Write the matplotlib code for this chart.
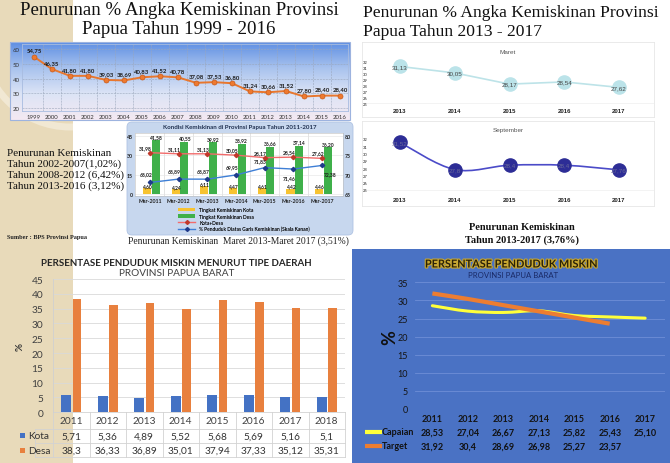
import numpy as np
import matplotlib
matplotlib.use("Agg")
import matplotlib.pyplot as plt
from matplotlib.patches import Rectangle, FancyBboxPatch, PathPatch, Circle, Patch
from matplotlib.path import Path
from matplotlib.lines import Line2D
from matplotlib.colors import LinearSegmentedColormap
import matplotlib.transforms as mtransforms
import matplotlib.patheffects as pe

plt.rcParams['font.family'] = ['Lato', 'DejaVu Sans']
SERIF = ['Liberation Serif', 'DejaVu Serif']

# ------------------------------------------------------------------ data
years_long = [1999, 2000, 2001, 2002, 2003, 2004, 2005, 2006, 2007, 2008,
              2009, 2010, 2011, 2012, 2013, 2014, 2015, 2016]
poverty_long = [54.75, 46.35, 41.80, 41.80, 39.03, 38.69, 40.83, 41.52, 40.78,
                37.08, 37.53, 36.80, 31.24, 30.66, 31.52, 27.80, 28.40, 28.40]

cond_cats = ["Mar-2011", "Mar-2012", "Mar-2013", "Mar-2014", "Mar-2015", "Mar-2016", "Mar-2017"]
cond_kota = [4.60, 4.24, 6.11, 4.47, 4.61, 4.42, 4.46]
cond_desa = [41.58, 40.55, 39.92, 38.92, 36.66, 37.14, 36.20]
cond_total = [31.98, 31.11, 31.13, 30.05, 28.17, 28.54, 27.62]
cond_above = [68.02, 68.89, 68.87, 69.95, 71.83, 71.46, 72.38]

years_short = [2013, 2014, 2015, 2016, 2017]
maret_vals = [31.13, 30.05, 28.17, 28.54, 27.62]
sept_vals = [31.52, 27.80, 28.40, 28.40, 27.76]
sept_labels = ["31,52", "27,8", "28,4", "28,4", "27,76"]

pb_years = ["2011", "2012", "2013", "2014", "2015", "2016", "2017", "2018"]
pb_kota = [5.71, 5.36, 4.89, 5.52, 5.68, 5.69, 5.16, 5.10]
pb_desa = [38.30, 36.33, 36.89, 35.01, 37.94, 37.33, 35.12, 35.31]
pb_kota_labels = ["5,71", "5,36", "4,89", "5,52", "5,68", "5,69", "5,16", "5,1"]
pb_desa_labels = ["38,3", "36,33", "36,89", "35,01", "37,94", "37,33", "35,12", "35,31"]

tg_years = ["2011", "2012", "2013", "2014", "2015", "2016", "2017"]
capaian = [28.53, 27.04, 26.67, 27.13, 25.82, 25.43, 25.10]
target = [31.92, 30.40, 28.69, 26.98, 25.27, 23.57]
capaian_labels = ["28,53", "27,04", "26,67", "27,13", "25,82", "25,43", "25,10"]
target_labels = ["31,92", "30,4", "28,69", "26,98", "25,27", "23,57"]

# ------------------------------------------------------------------ helpers
W, H = 670, 464
fig = plt.figure(figsize=(W / 100, H / 100), dpi=100)


def add_ax(x0, y0, x1, y1, **kw):
    return fig.add_axes([x0 / W, 1 - y1 / H, (x1 - x0) / W, (y1 - y0) / H], **kw)


def ftext(x, y, s, **kw):
    return fig.text(x / W, 1 - y / H, s, **kw)


def fmt(v):
    return f"{v:.2f}".replace('.', ',')


def smooth_path(xs, ys):
    n = len(xs)
    verts = [(xs[0], ys[0])]
    codes = [Path.MOVETO]
    for i in range(n - 1):
        p0 = (xs[max(i - 1, 0)], ys[max(i - 1, 0)])
        p1 = (xs[i], ys[i])
        p2 = (xs[i + 1], ys[i + 1])
        p3 = (xs[min(i + 2, n - 1)], ys[min(i + 2, n - 1)])
        c1 = (p1[0] + (p2[0] - p0[0]) / 6, p1[1] + (p2[1] - p0[1]) / 6)
        c2 = (p2[0] - (p3[0] - p1[0]) / 6, p2[1] - (p3[1] - p1[1]) / 6)
        verts += [c1, c2, p2]
        codes += [Path.CURVE4] * 3
    return Path(verts, codes)


# ------------------------------------------------------------------ background
bg = add_ax(0, 0, W, H)
bg.set_zorder(-10)
beige = '#E8DABA'
bg.add_patch(Rectangle((0, 0), W, H, fc='white', ec='none', zorder=0.1))
beige_rect = Rectangle((0, 0), 73, H, fc=beige, ec='none', zorder=0.2)
bg.add_patch(beige_rect)
arc = Circle((70, 40), 88, fill=False, lw=5, ec='#F1E8D3', zorder=0.3)
bg.add_patch(arc)
arc.set_clip_path(beige_rect)
bg.add_patch(Rectangle((352, 250), W - 352, H - 250, fc='#4A72C4', ec='none', zorder=0.2))

# ------------------------------------------------------------------ panel 1
ftext(179, 15, "Penurunan % Angka Kemiskinan Provinsi", family=SERIF, fontsize=13.6,
      ha='center', va='baseline', color='#111111')
ftext(179, 34, "Papua Tahun 1999 - 2016", family=SERIF, fontsize=13.6,
      ha='center', va='baseline', color='#111111')

grad_cmap = LinearSegmentedColormap.from_list('g1', ['#5F8FE3', '#A9C3EE', '#DCE4F6', '#F4E9F2'])
grad = np.linspace(0, 1, 100).reshape(-1, 1)
bg.imshow(grad, cmap=grad_cmap, extent=(10, 350, 121, 43), aspect='auto', zorder=1)
bg.add_patch(Rectangle((10, 43), 340, 78, fc='none', ec='#9DB3DF', lw=0.8, zorder=2))
bg.set_xlim(0, W)
bg.set_ylim(H, 0)
bg.axis('off')

ax1 = add_ax(22, 45, 348, 112)
ax1.patch.set_alpha(0)
ax1.plot(years_long, poverty_long, color='#E8772E', lw=1.4, marker='o', ms=3.6,
         mfc='#EE7A30', mec='#C85A18', mew=0.5, zorder=3)
for xv, yv in zip(years_long, poverty_long):
    ax1.annotate(fmt(yv), (xv, yv), xytext=(0, 3), textcoords='offset points',
                 ha='center', va='bottom', fontsize=4.3, fontweight='bold', color='#1a1a1a')
ax1.set_xlim(1998.333, 2016.444)
ax1.set_ylim(17.97, 63.39)
ax1.set_xticks(years_long)
ax1.set_xticklabels([str(y) for y in years_long])
ax1.set_xticks([y + 0.5 for y in years_long[:-1]], minor=True)
ax1.set_yticks([20, 30, 40, 50, 60])
ax1.tick_params(axis='both', length=0, labelsize=4.3, labelcolor='#333333')
ax1.tick_params(axis='y', pad=1.5)
ax1.tick_params(axis='x', pad=2.0)
ax1.tick_params(axis='x', which='minor', length=0)
ax1.grid(axis='y', which='major', color='#9aa6bb', lw=0.4, ls='--')
ax1.grid(axis='x', which='minor', color='#9aa6bb', lw=0.4, ls='--')
for s in ax1.spines.values():
    s.set_color('#A8BCE0')
    s.set_linewidth(0.6)

# ------------------------------------------------------------------ left text
for yy, line in zip([156, 167, 178, 189],
                    ["Penurunan Kemiskinan", "Tahun 2002-2007(1,02%)",
                     "Tahun 2008-2012 (6,42%)", "Tahun 2013-2016 (3,12%)"]):
    ftext(7, yy, line, family=SERIF, fontsize=8, va='baseline', ha='left', color='#111111')
ftext(7, 238, "Sumber : BPS Provinsi Papua", family=SERIF, fontsize=4.5,
      fontweight='bold', va='center', ha='left', color='#222222')

# ------------------------------------------------------------------ panel 2 (inner chart)
bg.add_patch(FancyBboxPatch((127, 123), 226, 113, boxstyle='round,pad=0,rounding_size=5',
                            fc='#C7D7EE', ec='#AFC3E3', lw=0.6, zorder=1))
ftext(240, 128, "Kondisi Kemiskinan di Provinsi Papua Tahun 2011-2017", fontsize=4.4,
      fontweight='bold', ha='center', va='center', color='#1F3050')

ax2 = add_ax(135, 134, 343, 197)
ax2.set_facecolor('white')
xc = np.arange(len(cond_cats))
ax2.bar(xc - 0.1, cond_kota, width=0.28, color='#F7C331', zorder=2)
ax2.bar(xc + 0.2, cond_desa, width=0.28, color='#3FB04A', zorder=2)
ax2.plot(xc, cond_total, color='#F26B6B', lw=1.0, marker='D', ms=2.2,
         mfc='#C0392B', mec='#C0392B', zorder=4)
for i, v in enumerate(cond_desa):
    ax2.annotate(fmt(v), (xc[i] + 0.2, v), xytext=(0, 1), textcoords='offset points',
                 ha='center', va='bottom', fontsize=3.6, fontweight='bold', color='#1a1a1a')
for i, v in enumerate(cond_kota):
    ax2.annotate(fmt(v), (xc[i] - 0.1, v), xytext=(0, 0), textcoords='offset points',
                 ha='center', va='bottom', fontsize=3.6, fontweight='bold', color='#1a1a1a')
for i, v in enumerate(cond_total):
    ax2.annotate(fmt(v), (xc[i], v), xytext=(-3, 2), textcoords='offset points',
                 ha='center', va='bottom', fontsize=3.6, fontweight='bold', color='#1a1a1a')
ax2.set_xlim(-0.52, 6.73)
ax2.set_ylim(-1.3, 47.1)
ax2.set_yticks([0, 15, 30, 45])
ax2.set_xticks(xc)
ax2.set_xticklabels(cond_cats)
ax2.set_xticks(xc[:-1] + 0.5, minor=True)
ax2.grid(axis='x', which='minor', color='#d0d0d0', lw=0.4)
ax2.grid(axis='y', which='major', color='#e3e3e3', lw=0.4)
ax2.tick_params(axis='both', which='both', length=0, labelsize=3.8, labelcolor='#222222', pad=1.5)
for lab in ax2.get_xticklabels() + ax2.get_yticklabels():
    lab.set_fontweight('bold')
for s in ax2.spines.values():
    s.set_color('#bbbbbb')
    s.set_linewidth(0.4)

ax2r = ax2.twinx()
ax2r.plot(xc, cond_above, color='#3E7FD6', lw=1.0, marker='D', ms=2.2,
          mfc='#1F3A8A', mec='#1F3A8A', zorder=4)
above_off = [6, 6, 6, 6, 5, -6, -6]
for i, v in enumerate(cond_above):
    ax2r.annotate(fmt(v), (xc[i], v), xytext=(-3 if i < 6 else 6, above_off[i]),
                  textcoords='offset points', ha='center', va='center',
                  fontsize=3.6, fontweight='bold', color='#1a1a1a')
ax2r.set_ylim(64.56, 80.69)
ax2r.set_yticks([65, 70, 75, 80])
ax2r.tick_params(axis='y', length=0, labelsize=3.8, labelcolor='#222222', pad=1.5)
for lab in ax2r.get_yticklabels():
    lab.set_fontweight('bold')
for s in ax2r.spines.values():
    s.set_visible(False)

leg_handles = [Patch(fc='#F7C331', ec='none'), Patch(fc='#3FB04A', ec='none'),
               Line2D([], [], color='#F26B6B', lw=1, marker='D', ms=2, mfc='#C0392B', mec='#C0392B'),
               Line2D([], [], color='#3E7FD6', lw=1, marker='D', ms=2, mfc='#1F3A8A', mec='#1F3A8A')]
leg_labels = ["Tingkat Kemiskinan Kota", "Tingkat Kemiskinan Desa", "Kota+Desa",
              "% Penduduk Diatas Garis Kemiskinan (Skala Kanan)"]
fig.legend(leg_handles, leg_labels, loc='upper left', bbox_to_anchor=(176 / W, 1 - 206 / H),
           frameon=False, prop={'size': 3.5, 'weight': 'bold'}, handlelength=3.5,
           handleheight=0.7, labelspacing=0.25, borderpad=0, handletextpad=0.8)

ftext(128, 241, "Penurunan Kemiskinan  Maret 2013-Maret 2017 (3,51%)", family=SERIF,
      fontsize=6.95, ha='left', va='center', color='#222222')

# ------------------------------------------------------------------ panel 3
ftext(363, 17, "Penurunan % Angka Kemiskinan Provinsi", family=SERIF, fontsize=12.6,
      ha='left', va='baseline', color='#111111')
ftext(363, 36, "Papua Tahun 2013 - 2017", family=SERIF, fontsize=12.6,
      ha='left', va='baseline', color='#111111')


def small_line_chart(box, vals, labels, ylim, title, title_y, face, line_c, text_c, smooth):
    x0, y0, x1, y1 = box
    ax = add_ax(x0, y0, x1, y1)
    ax.set_facecolor('white')
    if smooth:
        ax.add_patch(PathPatch(smooth_path(years_short, vals), fc='none', ec=line_c, lw=1.2, zorder=2))
    else:
        ax.plot(years_short, vals, color=line_c, lw=1.2, zorder=2)
    ax.plot(years_short, vals, ls='none', marker='o', ms=9.5, mfc=face, mec=face, zorder=3)
    for xv, yv, lab in zip(years_short, vals, labels):
        ax.text(xv, yv, lab, ha='center', va='center', fontsize=4.5, color=text_c, zorder=4,
                family=['Liberation Sans', 'DejaVu Sans'])
    ax.set_ylim(*ylim)
    ax.set_xticks(years_short)
    ax.set_yticks(range(25, 33))
    ax.axhline(25, color='#eeeeee', lw=0.5, zorder=1)
    ax.tick_params(axis='both', length=0, labelcolor='#222222')
    ax.tick_params(axis='y', labelsize=3.0, pad=-3.8)
    ax.tick_params(axis='x', labelsize=4.3)
    for lab in ax.get_xticklabels():
        lab.set_fontweight('bold')
        lab.set_family(['Liberation Sans', 'DejaVu Sans'])
    for s in ax.spines.values():
        s.set_color('#e6e6e6')
        s.set_linewidth(0.6)
    ax.text(0.5, (y1 - title_y) / (y1 - y0), title, transform=ax.transAxes, ha='center',
            va='center', fontsize=4.6, color='#555555', family=['Liberation Sans', 'DejaVu Sans'])
    return ax


ax3 = small_line_chart((362, 43, 654, 118), maret_vals, [fmt(v) for v in maret_vals],
                       (22.65, 35.24), "Maret", 52, '#BBE3E9', '#BDE3E8', '#444444', False)
ax3.set_xlim(2012.306, 2017.639)
ax3.tick_params(axis='x', pad=-6.5)

ax4 = small_line_chart((362, 122, 654, 207), sept_vals, sept_labels,
                       (22.8, 34.47), "September", 131, '#2D2D96', '#4B4BC8', '#6a6a9a', True)
ax4.set_xlim(2012.306, 2017.639)
ax4.tick_params(axis='x', pad=-6.8)

ftext(522, 228, "Penurunan Kemiskinan", family=SERIF, fontsize=7.5, fontweight='bold',
      ha='center', va='center', color='#111111')
ftext(522, 240, "Tahun 2013-2017 (3,76%)", family=SERIF, fontsize=7.5, fontweight='bold',
      ha='center', va='center', color='#111111')

# ------------------------------------------------------------------ panel 4
ftext(176, 263, "PERSENTASE PENDUDUK MISKIN MENURUT TIPE DAERAH", fontsize=7.05,
      fontweight='bold', ha='center', va='center', color='#262626')
ftext(177, 273, "PROVINSI PAPUA BARAT", fontsize=7.2, ha='center', va='center', color='#404040')
ftext(20, 347, "%", fontsize=7, fontweight='bold', rotation=90, ha='center', va='center',
      color='#333333')

ax5 = add_ax(53, 280, 345, 413.3)
ax5.patch.set_alpha(0)
xp = np.arange(len(pb_years))
ax5.bar(xp - 0.14, pb_kota, width=0.27, color='#4472C4', zorder=2)
ax5.bar(xp + 0.16, pb_desa, width=0.24, color='#E8803E', zorder=2)
ax5.set_xlim(-0.5, 7.5)
ax5.set_ylim(0, 45)
ax5.set_yticks(range(0, 50, 5))
ax5.set_xticks(xp)
ax5.set_xticklabels(pb_years)
ax5.grid(axis='y', color='#d9d9d9', lw=0.6, zorder=0)
ax5.tick_params(axis='both', length=0, labelsize=7.3, labelcolor='#404040')
ax5.tick_params(axis='y', pad=7)
ax5.tick_params(axis='x', pad=3.0)
for k in ['top', 'right', 'bottom']:
    ax5.spines[k].set_visible(False)
ax5.spines['left'].set_color('#d0d0d0')
ax5.spines['left'].set_linewidth(0.6)

tr5 = mtransforms.blended_transform_factory(ax5.transData, ax5.transAxes)
ph5 = 413.3 - 280


def yf5(ypx):
    return (413.3 - ypx) / ph5


tab_c = '#d2d2d2'
for xb in np.arange(-0.5, 8.0, 1.0):
    ax5.plot([xb, xb], [0, yf5(457.5)], transform=tr5, color=tab_c, lw=0.6, clip_on=False)
for yl in [430, 443.5, 457.5]:
    ax5.plot([-1.0, 7.5], [yf5(yl), yf5(yl)], transform=tr5, color=tab_c, lw=0.6, clip_on=False)
ax5.plot([-0.5, 7.5], [0, 0], transform=tr5, color=tab_c, lw=0.6, clip_on=False)
ax5.plot([-1.0, -1.0], [yf5(430), yf5(457.5)], transform=tr5, color=tab_c, lw=0.6, clip_on=False)
for i in range(len(pb_years)):
    ax5.text(xp[i], yf5(437), pb_kota_labels[i], transform=tr5, ha='center', va='center',
             fontsize=7.3, color='#333333')
    ax5.text(xp[i], yf5(451.5), pb_desa_labels[i], transform=tr5, ha='center', va='center',
             fontsize=7.3, color='#333333')
bg.add_patch(Rectangle((20, 434), 5, 5, fc='#4472C4', ec='none', zorder=3))
bg.add_patch(Rectangle((20, 448.5), 5, 5, fc='#E8803E', ec='none', zorder=3))
ftext(28, 437, "Kota", fontsize=7.3, ha='left', va='center', color='#333333')
ftext(28, 451.5, "Desa", fontsize=7.3, ha='left', va='center', color='#333333')

# ------------------------------------------------------------------ panel 5
ftext(511, 265, "PERSENTASE PENDUDUK MISKIN", fontsize=7.85, fontweight='bold',
      ha='center', va='center', color='#2A2208',
      path_effects=[pe.withStroke(linewidth=1.6, foreground='#C9A830')])
ftext(513, 276, "PROVINSI PAPUA BARAT", fontsize=5.6, ha='center', va='center', color='#1A2A66')
ftext(390, 338, "%", fontsize=13, fontweight='bold', rotation=90, ha='center', va='center',
      color='#111111')

ax6 = add_ax(415, 283.3, 665, 410)
ax6.patch.set_alpha(0)
xt = np.arange(len(tg_years))
ax6.add_patch(PathPatch(smooth_path(list(xt), capaian), fc='none', ec='#FFFF3A', lw=2.2,
                        capstyle='round', zorder=3))
ax6.add_patch(PathPatch(smooth_path(list(xt[:len(target)]), target), fc='none', ec='#ED7D31',
                        lw=3.0, capstyle='butt', zorder=4))
ax6.set_xlim(-0.49, 6.56)
ax6.set_ylim(0, 35)
ax6.set_yticks(range(0, 40, 5))
ax6.set_xticks(xt)
ax6.set_xticklabels(tg_years)
ax6.grid(axis='y', color='#6E8ED6', lw=0.6, zorder=0)
ax6.tick_params(axis='both', length=0, labelsize=6.5, labelcolor='#151515')
ax6.tick_params(axis='y', pad=5)
ax6.tick_params(axis='x', pad=3.6)
for lab in ax6.get_xticklabels():
    lab.set_fontweight('bold')
for s in ax6.spines.values():
    s.set_visible(False)

tr6 = mtransforms.blended_transform_factory(ax6.transData, ax6.transAxes)
ph6 = 410 - 283.3
for i, lab in enumerate(capaian_labels):
    ax6.text(xt[i], (410 - 433) / ph6, lab, transform=tr6, ha='center', va='center',
             fontsize=6.5, fontweight='bold', color='#111111')
for i, lab in enumerate(target_labels):
    ax6.text(xt[i], (410 - 447) / ph6, lab, transform=tr6, ha='center', va='center',
             fontsize=6.5, fontweight='bold', color='#111111')
bg.plot([365, 382], [433, 433], color='#FFFF3A', lw=3, solid_capstyle='butt', zorder=3)
bg.plot([365, 382], [447, 447], color='#ED7D31', lw=3, solid_capstyle='butt', zorder=3)
ftext(382, 433, "Capaian", fontsize=6.5, fontweight='bold', ha='left', va='center', color='#111111')
ftext(382, 447, "Target", fontsize=6.5, fontweight='bold', ha='left', va='center', color='#111111')

fig.savefig('out.png', dpi=100)
